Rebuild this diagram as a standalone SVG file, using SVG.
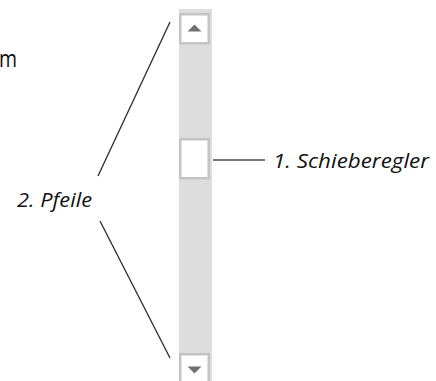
<svg xmlns="http://www.w3.org/2000/svg" width="436" height="381" viewBox="0 0 436 381">
  <style>
    .track { fill: #dddddd; }
    .btn { fill: #ffffff; stroke: #c4c4c4; stroke-width: 2.5; }
    .glyph { fill: #707070; }
    .lead { stroke: #2a2a2a; stroke-width: 1.3; fill: none; }
    .tick { stroke: #7a7a7a; stroke-width: 2; fill: none; }
    .label { font-family: "Open Sans", "Noto Sans", sans-serif; font-style: italic; font-size: 20px; fill: #111111; }
    .plain { font-family: "Open Sans", "Noto Sans", sans-serif; font-size: 24px; fill: #111111; }
  </style>
  <rect width="436" height="381" fill="#ffffff"/>

  <!-- fragment of running text at the left edge -->
  <text class="plain" x="-1" y="67" textLength="18" lengthAdjust="spacingAndGlyphs">m</text>

  <!-- vertical scrollbar -->
  <g id="scrollbar">
    <rect class="track" x="179" y="9" width="33" height="372"/>
    <g id="arrow-up">
      <rect class="btn" x="180.25" y="14.25" width="28.5" height="29"/>
      <polygon class="glyph" points="187.5,31.5 194.5,24.5 201.5,31.5"/>
    </g>
    <g id="thumb">
      <rect class="btn" x="180.25" y="139.25" width="28.5" height="39"/>
    </g>
    <g id="arrow-down">
      <rect class="btn" x="180.25" y="354.25" width="28.5" height="30"/>
      <polygon class="glyph" points="187.5,366.5 201.5,366.5 194.5,373.5"/>
    </g>
  </g>

  <g id="connectors">
    <line class="tick" x1="213" y1="160" x2="265" y2="160"/>
    <line class="lead" x1="170" y1="22" x2="98" y2="176"/>
    <line class="lead" x1="100" y1="221" x2="170" y2="358"/>
  </g>

  <g id="label-slider">
    <text class="label" x="273" y="168" textLength="156" lengthAdjust="spacingAndGlyphs">1. Schieberegler</text>
  </g>
  <g id="label-arrows">
    <text class="label" x="17" y="207" textLength="75" lengthAdjust="spacingAndGlyphs">2. Pfeile</text>
  </g>
</svg>
